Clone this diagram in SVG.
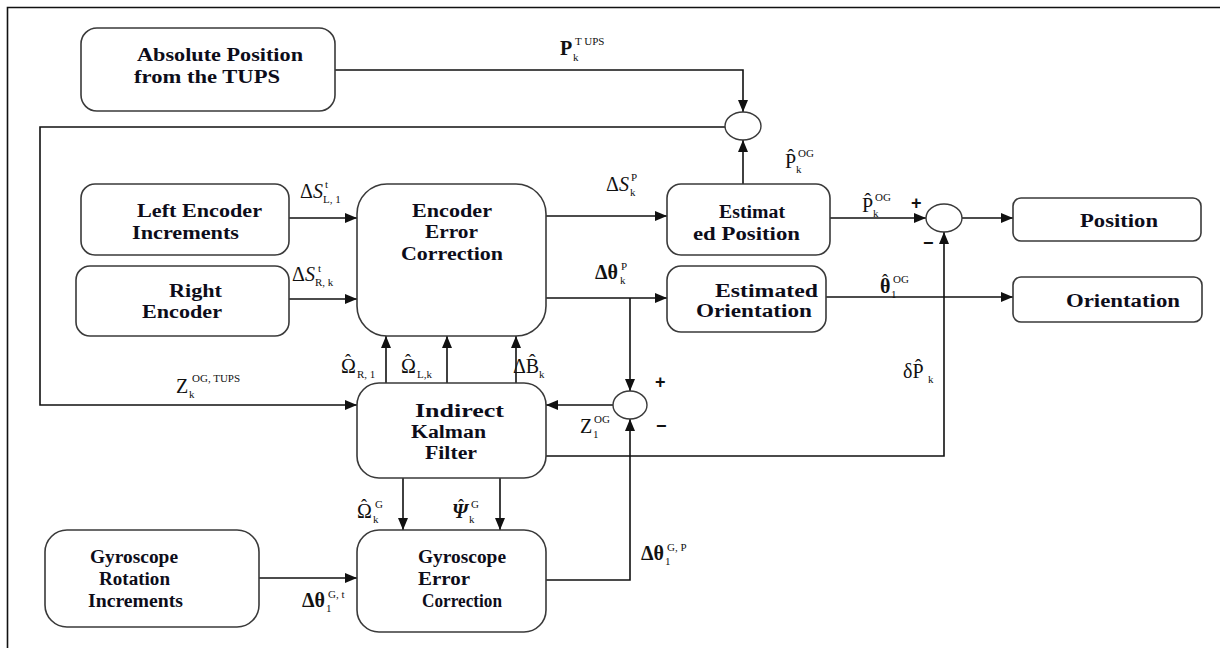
<svg xmlns="http://www.w3.org/2000/svg" width="1220" height="648" viewBox="0 0 1220 648">
  <defs>
    <style>
      .box { fill: #ffffff; stroke: #3a3a3a; stroke-width: 1.6; }
      .wire { fill: none; stroke: #111; stroke-width: 1.6; }
      .sum { fill: #ffffff; stroke: #3a3a3a; stroke-width: 1.4; }
      text { font-family: "Liberation Serif", "Times New Roman", serif; }
      .lbl { font-weight: bold; font-size: 18px; fill: #0d0d1a; }
      .m { font-size: 20px; fill: #111; }
      .mb { font-weight: bold; font-size: 20px; fill: #111; }
      .s { font-size: 11px; font-weight: normal; font-style: normal; }
      .h { font-size: 18px; font-weight: normal; font-style: normal; }
      .sign { font-family: "Liberation Sans", Arial, sans-serif; font-weight: bold; font-size: 18px; fill: #111; }
    </style>
    <marker id="arr" markerUnits="userSpaceOnUse" markerWidth="13" markerHeight="11" refX="12" refY="5" orient="auto">
      <path d="M0,0 L12,5 L0,10 z" fill="#111"/>
    </marker>
  </defs>

  <rect width="1220" height="648" fill="#ffffff"/>

  <!-- outer frame (top and left edges) -->
  <path d="M1220,7.5 H7.5 V648" fill="none" stroke="#111" stroke-width="1.6"/>

  <!-- connectors -->
  <g id="connectors">
    <!-- TUPS position down into the upper summing junction -->
    <path class="wire" d="M335,70 H743 V112" marker-end="url(#arr)"/>
    <!-- estimated position up into the upper summing junction -->
    <path class="wire" d="M743,184 V140" marker-end="url(#arr)"/>
    <!-- junction output fed back to the Kalman filter -->
    <path class="wire" d="M725,127 H40 V405 H357" marker-end="url(#arr)"/>
    <!-- wheel encoders into encoder error correction -->
    <path class="wire" d="M289,218 H357" marker-end="url(#arr)"/>
    <path class="wire" d="M289,299 H357" marker-end="url(#arr)"/>
    <!-- encoder error correction outputs -->
    <path class="wire" d="M546,216 H667" marker-end="url(#arr)"/>
    <path class="wire" d="M546,298 H667" marker-end="url(#arr)"/>
    <path class="wire" d="M630,298 V391" marker-end="url(#arr)"/>
    <!-- estimated position to position junction and output -->
    <path class="wire" d="M830,218 H926" marker-end="url(#arr)"/>
    <path class="wire" d="M962,218 H1013" marker-end="url(#arr)"/>
    <!-- estimated orientation to output -->
    <path class="wire" d="M826,297 H1013" marker-end="url(#arr)"/>
    <!-- Kalman filter corrections up to the encoder block -->
    <path class="wire" d="M386,383 V336" marker-end="url(#arr)"/>
    <path class="wire" d="M447,383 V336" marker-end="url(#arr)"/>
    <path class="wire" d="M516,383 V336" marker-end="url(#arr)"/>
    <!-- orientation junction into Kalman filter -->
    <path class="wire" d="M613,405 H546" marker-end="url(#arr)"/>
    <!-- position correction from Kalman filter -->
    <path class="wire" d="M546,456 H944 V232" marker-end="url(#arr)"/>
    <!-- Kalman filter down to gyroscope error correction -->
    <path class="wire" d="M403,478 V530" marker-end="url(#arr)"/>
    <path class="wire" d="M500,478 V530" marker-end="url(#arr)"/>
    <!-- gyroscope increments into correction -->
    <path class="wire" d="M259,578 H357" marker-end="url(#arr)"/>
    <!-- corrected gyro increment up into orientation junction -->
    <path class="wire" d="M546,580 H630 V419" marker-end="url(#arr)"/>
  </g>

  <!-- summing junctions -->
  <g id="sum-tups"><ellipse class="sum" cx="743" cy="126" rx="18" ry="14"/></g>
  <g id="sum-position"><ellipse class="sum" cx="944" cy="218" rx="18" ry="14"/></g>
  <g id="sum-orientation"><ellipse class="sum" cx="630" cy="405" rx="17" ry="14"/></g>

  <!-- blocks -->
  <g id="node-tups">
    <rect class="box" x="81" y="28" width="254" height="83" rx="16"/>
    <text class="lbl" x="137" y="61" textLength="166" lengthAdjust="spacingAndGlyphs">Absolute Position</text>
    <text class="lbl" x="134" y="83" textLength="146" lengthAdjust="spacingAndGlyphs">from the TUPS</text>
  </g>
  <g id="node-left-encoder">
    <rect class="box" x="81" y="184" width="208" height="71" rx="14"/>
    <text class="lbl" x="137" y="217" textLength="125" lengthAdjust="spacingAndGlyphs">Left Encoder</text>
    <text class="lbl" x="132" y="239" textLength="107" lengthAdjust="spacingAndGlyphs">Increments</text>
  </g>
  <g id="node-right-encoder">
    <rect class="box" x="76" y="266" width="213" height="70" rx="14"/>
    <text class="lbl" x="169" y="297" textLength="53" lengthAdjust="spacingAndGlyphs">Right</text>
    <text class="lbl" x="142" y="318" textLength="80" lengthAdjust="spacingAndGlyphs">Encoder</text>
  </g>
  <g id="node-encoder-correction">
    <rect class="box" x="357" y="184" width="189" height="152" rx="30"/>
    <text class="lbl" x="412" y="217" textLength="80" lengthAdjust="spacingAndGlyphs">Encoder</text>
    <text class="lbl" x="425" y="238" textLength="53" lengthAdjust="spacingAndGlyphs">Error</text>
    <text class="lbl" x="401" y="260" textLength="102" lengthAdjust="spacingAndGlyphs">Correction</text>
  </g>
  <g id="node-estimated-position">
    <rect class="box" x="667" y="184" width="163" height="71" rx="14"/>
    <text class="lbl" x="719" y="218" textLength="66" lengthAdjust="spacingAndGlyphs">Estimat</text>
    <text class="lbl" x="693" y="240" textLength="107" lengthAdjust="spacingAndGlyphs">ed Position</text>
  </g>
  <g id="node-estimated-orientation">
    <rect class="box" x="667" y="266" width="159" height="66" rx="14"/>
    <text class="lbl" x="715" y="297" textLength="103" lengthAdjust="spacingAndGlyphs">Estimated</text>
    <text class="lbl" x="696" y="317" textLength="116" lengthAdjust="spacingAndGlyphs">Orientation</text>
  </g>
  <g id="node-position">
    <rect class="box" x="1013" y="198" width="188" height="43" rx="8"/>
    <text class="lbl" x="1080" y="227" textLength="78" lengthAdjust="spacingAndGlyphs">Position</text>
  </g>
  <g id="node-orientation">
    <rect class="box" x="1013" y="277" width="189" height="45" rx="8"/>
    <text class="lbl" x="1066" y="307" textLength="114" lengthAdjust="spacingAndGlyphs">Orientation</text>
  </g>
  <g id="node-kalman">
    <rect class="box" x="357" y="383" width="189" height="95" rx="22"/>
    <text class="lbl" x="415" y="417" textLength="89" lengthAdjust="spacingAndGlyphs">Indirect</text>
    <text class="lbl" x="411" y="438" textLength="75" lengthAdjust="spacingAndGlyphs">Kalman</text>
    <text class="lbl" x="425" y="459" textLength="52" lengthAdjust="spacingAndGlyphs">Filter</text>
  </g>
  <g id="node-gyro-correction">
    <rect class="box" x="357" y="530" width="189" height="102" rx="22"/>
    <text class="lbl" x="418" y="563" textLength="88" lengthAdjust="spacingAndGlyphs">Gyroscope</text>
    <text class="lbl" x="418" y="585" textLength="52" lengthAdjust="spacingAndGlyphs">Error</text>
    <text class="lbl" x="422" y="607" textLength="80" lengthAdjust="spacingAndGlyphs">Correction</text>
  </g>
  <g id="node-gyro-increments">
    <rect class="box" x="45" y="530" width="214" height="97" rx="22"/>
    <text class="lbl" x="90" y="563" textLength="88" lengthAdjust="spacingAndGlyphs">Gyroscope</text>
    <text class="lbl" x="99" y="585" textLength="71" lengthAdjust="spacingAndGlyphs">Rotation</text>
    <text class="lbl" x="88" y="607" textLength="95" lengthAdjust="spacingAndGlyphs">Increments</text>
  </g>

  <!-- signal labels -->
  <g id="labels">
    <text class="mb" x="560" y="55">P<tspan class="s" x="573" y="61">k</tspan><tspan class="s" x="575" y="45">T UPS</tspan></text>
    <text class="m" x="785" y="168">P̂<tspan class="s" x="796" y="173">k</tspan><tspan class="s" x="798" y="157">OG</tspan></text>
    <text class="m" x="862" y="212">P̂<tspan class="s" x="873" y="217">k</tspan><tspan class="s" x="875" y="201">OG</tspan></text>
    <text class="mb" x="880" y="293">θ<tspan class="h" x="882" y="287">ˆ</tspan><tspan class="s" x="891" y="298">1</tspan><tspan class="s" x="893" y="283">OG</tspan></text>
    <text class="m" x="606" y="191">Δ<tspan font-style="italic">S</tspan><tspan class="s" x="630" y="196">k</tspan><tspan class="s" x="631" y="181">P</tspan></text>
    <text class="mb" x="595" y="279">Δθ<tspan class="s" x="620" y="284">k</tspan><tspan class="s" x="621" y="270">P</tspan></text>
    <text class="m" x="300" y="198">Δ<tspan font-style="italic">S</tspan><tspan class="s" x="325" y="188">t</tspan><tspan class="s" x="323" y="203">L, 1</tspan></text>
    <text class="m" x="292" y="281">Δ<tspan font-style="italic">S</tspan><tspan class="s" x="318" y="272">t</tspan><tspan class="s" x="315" y="286">R, k</tspan></text>
    <text class="m" x="341" y="373">Ω<tspan class="h" x="345" y="367">ˆ</tspan><tspan class="s" x="357" y="378">R, 1</tspan></text>
    <text class="m" x="401" y="373">Ω<tspan class="h" x="405" y="367">ˆ</tspan><tspan class="s" x="417" y="378">L,k</tspan></text>
    <text class="m" x="513" y="373">ΔB̂<tspan class="s" x="539" y="378">k</tspan></text>
    <text class="m" x="176" y="393">Z<tspan class="s" x="189" y="398">k</tspan><tspan class="s" x="192" y="382">OG, TUPS</tspan></text>
    <text class="m" x="580" y="433">Z<tspan class="s" x="593" y="438">1</tspan><tspan class="s" x="594" y="423">OG</tspan></text>
    <text class="m" x="903" y="378" font-size="22">δP̂<tspan class="s" x="928" y="383">k</tspan></text>
    <text class="m" x="357" y="518">Ω<tspan class="h" x="361" y="512">ˆ</tspan><tspan class="s" x="373" y="523">k</tspan><tspan class="s" x="375" y="508">G</tspan></text>
    <text class="mb" x="452" y="518" font-style="italic">Ψ<tspan class="h" x="458" y="512">ˆ</tspan><tspan class="s" x="469" y="523">k</tspan><tspan class="s" x="471" y="508">G</tspan></text>
    <text class="mb" x="641" y="560">Δθ<tspan class="s" x="665" y="565">1</tspan><tspan class="s" x="667" y="551">G, P</tspan></text>
    <text class="mb" x="302" y="607">Δθ<tspan class="s" x="326" y="612">1</tspan><tspan class="s" x="328" y="598">G, t</tspan></text>

    <!-- junction signs -->
    <text class="sign" x="911" y="209">+</text>
    <text class="sign" x="923" y="249">−</text>
    <text class="sign" x="655" y="388">+</text>
    <text class="sign" x="656" y="432">−</text>
  </g>
</svg>
